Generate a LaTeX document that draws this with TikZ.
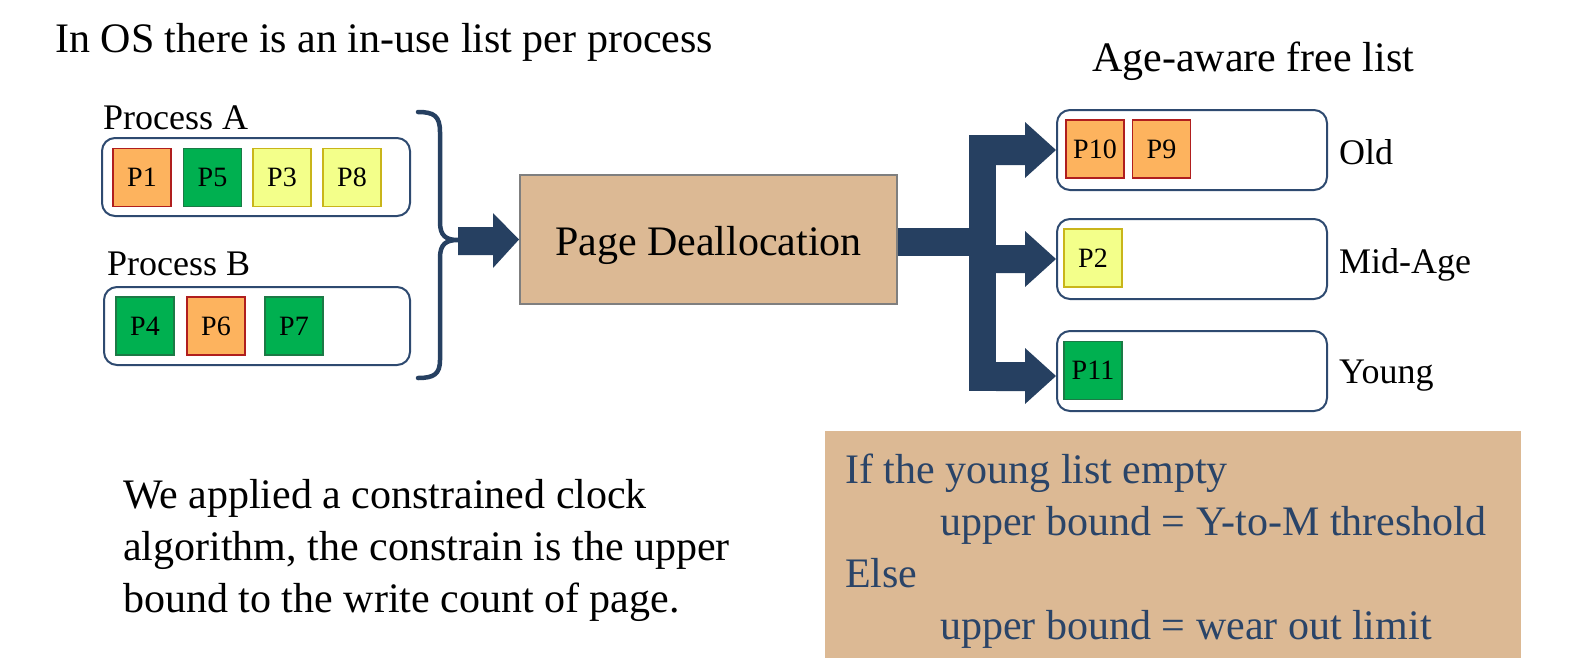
\documentclass[tikz,border=0pt]{standalone}
\usepackage{fontspec}
\setmainfont{Liberation Serif}
\usetikzlibrary{calc}

\definecolor{navy}{HTML}{264061}
\definecolor{listedge}{HTML}{2E4A70}
\definecolor{tan}{HTML}{DCB994}
\definecolor{tanedge}{HTML}{7F7F7F}
\definecolor{oldfill}{HTML}{FDB35E}
\definecolor{oldedge}{HTML}{B01E1E}
\definecolor{midfill}{HTML}{F3FF8A}
\definecolor{midedge}{HTML}{C9B51A}
\definecolor{youngfill}{HTML}{00B050}
\definecolor{youngedge}{HTML}{1C7A46}
\definecolor{condtext}{HTML}{2A4468}

\begin{document}
\begin{tikzpicture}[x=1pt,y=-1pt,
  listbox/.style={draw=listedge,line width=2pt,rounded corners=13pt,fill=white,
    inner sep=0pt},
  page/.style={line width=1.4pt,minimum width=58pt,minimum height=58pt,
    inner sep=0pt,font=\fontsize{28}{30}\selectfont},
  oldpg/.style={page,fill=oldfill,draw=oldedge},
  midpg/.style={page,fill=midfill,draw=midedge},
  youngpg/.style={page,fill=youngfill,draw=youngedge},
  bigtext/.style={font=\fontsize{42}{50}\selectfont,inner sep=0pt,anchor=base west},
  midtext/.style={font=\fontsize{36}{42}\selectfont,inner sep=0pt,anchor=base west},
  condline/.style={bigtext,text=condtext},
  blockarrow/.style={fill=navy,draw=none},
]
\useasboundingbox (0,0) rectangle (1569,670);

% headings
\node[bigtext] (title) at (55,52) {In OS there is an in-use list per process};
\node[bigtext] (freehead) at (1092,71) {Age-aware free list};

% per-process in-use lists
\node[midtext] (labA) at (103,129) {Process A};
\node[listbox,minimum width=308pt,minimum height=78pt] (listA) at (256,177) {};
\node[oldpg]   (p1) at (142,177.5) {P1};
\node[youngpg] (p5) at (212.5,177.5) {P5};
\node[midpg]   (p3) at (282,177.5) {P3};
\node[midpg]   (p8) at (352,177.5) {P8};

\node[midtext] (labB) at (107,275) {Process B};
\node[listbox,minimum width=306pt,minimum height=78pt] (listB) at (257,326) {};
\node[youngpg] (p4) at (145,326) {P4};
\node[oldpg]   (p6) at (216,326) {P6};
\node[youngpg] (p7) at (294,326) {P7};

% brace gathering both lists
\coordinate (bracetip) at (458,240);
\draw[navy,line width=4.5pt,line cap=round]
  (418,112) .. controls (434,112) and (440,116) .. (440,132) -- (440,222)
  .. controls (440,236) and (446,240) .. (bracetip)
  .. controls (446,240) and (440,244) .. (440,258) -- (440,360)
  .. controls (440,374) and (434,378) .. (418,378);

% deallocation step
\node[draw=tanedge,line width=2pt,fill=tan,minimum width=377pt,minimum height=129pt,
  inner sep=0pt] (dealloc) at (708.5,239.5) {};
\node[font=\fontsize{42}{50}\selectfont,inner sep=0pt,anchor=base] (dealloctext)
  at (708.5,255) {Page Deallocation};

% arrow into the deallocation step
\fill[blockarrow] (bracetip |- 0,227) -- (493,227) -- (493,213) -- (dealloc.west)
  -- (493,268) -- (493,255) -- (bracetip |- 0,255) -- cycle;

% age-aware free lists
\node[listbox,minimum width=270pt,minimum height=80pt] (oldlist) at (1192,150) {};
\node[listbox,minimum width=270pt,minimum height=80pt] (midlist) at (1192,259) {};
\node[listbox,minimum width=270pt,minimum height=80pt] (younglist) at (1192,371) {};
\node[oldpg]   (p10) at (1095,149) {P10};
\node[oldpg]   (p9)  at (1161.5,149) {P9};
\node[midpg]   (p2)  at (1093,258) {P2};
\node[youngpg] (p11) at (1093,370.5) {P11};

\node[midtext] (labOld)   at (1339,164) {Old};
\node[midtext] (labMid)   at (1339,273) {Mid-Age};
\node[midtext] (labYoung) at (1339,383) {Young};

% forked arrow out of the deallocation step
\fill[blockarrow] (dealloc.east |- 0,228) rectangle (969,256);
\fill[blockarrow] (969,135) rectangle (996,391);
\fill[blockarrow] (996,135) -- (1025,135) -- (1025,122) -- (oldlist.west |- 0,150)
  -- (1025,178) -- (1025,165) -- (996,165) -- cycle;
\fill[blockarrow] (996,245) -- (1025,245) -- (1025,231) -- (midlist.west |- 0,259)
  -- (1025,287) -- (1025,273) -- (996,273) -- cycle;
\fill[blockarrow] (996,362) -- (1025,362) -- (1025,348) -- (younglist.west |- 0,376)
  -- (1025,404) -- (1025,391) -- (996,391) -- cycle;

% explanation
\node[bigtext] (note1) at (123,508) {We applied a constrained clock};
\node[bigtext] (note2) at (123,560) {algorithm, the constrain is the upper};
\node[bigtext] (note3) at (123,612) {bound to the write count of page.};

% bound selection rule
\node[fill=tan,minimum width=696pt,minimum height=227pt,inner sep=0pt] (cond) at (1173,544.5) {};
\node[condline] (c1) at (845,483) {If the young list empty};
\node[condline] (c2) at (940,535) {upper bound = Y-to-M threshold};
\node[condline] (c3) at (845,587) {Else};
\node[condline] (c4) at (940,639) {upper bound = wear out limit};
\end{tikzpicture}
\end{document}
